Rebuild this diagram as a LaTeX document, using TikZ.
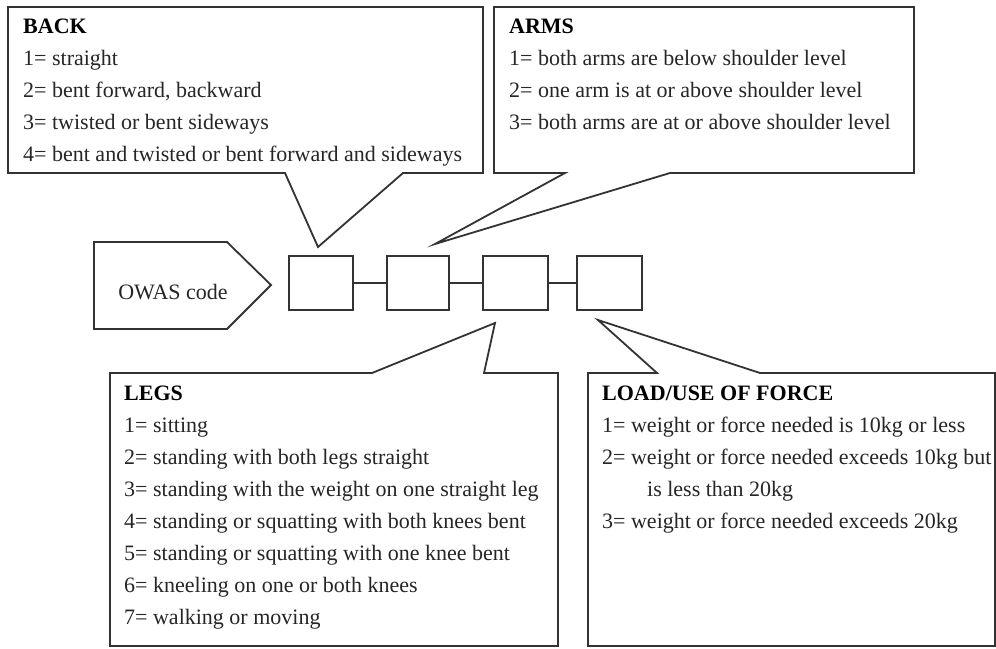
\documentclass[tikz,border=0pt]{standalone}
\usepackage{fontspec}
\setmainfont{Liberation Serif}
\begin{document}
\begin{tikzpicture}[x=1pt,y=-1pt,
  outline/.style={draw=black!80,line width=1.8pt,fill=white,line join=miter},
  codebox/.style={draw=black!80,line width=1.6pt,minimum width=64pt,minimum height=54pt,inner sep=0pt},
  link/.style={draw=black!80,line width=1.2pt},
  txt/.style={anchor=base west,inner sep=0pt,align=left,text=black!85,font=\fontsize{22}{32}\selectfont}]
\useasboundingbox (0,0) rectangle (996,648);
\fill[white] (0,0) rectangle (996,648);
% small code boxes
\node[codebox] (b1) at (321,283) {};
\node[codebox,minimum width=62pt] (b2) at (418,283) {};
\node[codebox,minimum width=65pt] (b3) at (515.5,283) {};
\node[codebox,minimum width=65pt] (b4) at (609.5,283) {};
\draw[link] (b1) -- (b2);
\draw[link] (b2) -- (b3);
\draw[link] (b3) -- (b4);
% pointer tips
\coordinate (tback) at (318,247);
\coordinate (tarms) at (435,244);
\coordinate (tlegs) at (495,323);
\coordinate (tload) at (598,320);
% OWAS code pentagon
\draw[outline] (94,242) -- (227,242) -- (271,285) -- (227,329) -- (94,329) -- cycle;
\node[anchor=base,inner sep=0pt,text=black!85,font=\fontsize{22}{32}\selectfont] (owas) at (173,299) {OWAS code};
% BACK callout
\draw[outline] (8,7) -- (483,7) -- (483,173) -- (403,173) -- (tback) -- (285,173) -- (8,173) -- cycle;
\node[txt] (back) at (23,161) {{\bfseries\color{black}BACK}\\
1= straight\\
2= bent forward, backward\\
3= twisted or bent sideways\\
4= bent and twisted or bent forward and sideways};
% ARMS callout
\draw[outline] (494,7) -- (914,7) -- (914,173) -- (670,173) -- (tarms) -- (565,173) -- (494,173) -- cycle;
\node[txt] (arms) at (509,129) {{\bfseries\color{black}ARMS}\\
1= both arms are below shoulder level\\
2= one arm is at or above shoulder level\\
3= both arms are at or above shoulder level};
% LEGS callout
\draw[outline] (110,373) -- (372,373) -- (tlegs) -- (484,373) -- (558,373) -- (558,646) -- (110,646) -- cycle;
\node[txt] (legs) at (124,624) {{\bfseries\color{black}LEGS}\\
1= sitting\\
2= standing with both legs straight\\
3= standing with the weight on one straight leg\\
4= standing or squatting with both knees bent\\
5= standing or squatting with one knee bent\\
6= kneeling on one or both knees\\
7= walking or moving};
% LOAD callout
\draw[outline] (588,373) -- (657,373) -- (tload) -- (760,373) -- (995,373) -- (995,646) -- (588,646) -- cycle;
\node[txt] (load) at (602,528) {{\bfseries\color{black}LOAD/USE OF FORCE}\\
1= weight or force needed is 10kg or less\\
2= weight or force needed exceeds 10kg but\\
\hspace*{45pt}is less than 20kg\\
3= weight or force needed exceeds 20kg};
\end{tikzpicture}
\end{document}
